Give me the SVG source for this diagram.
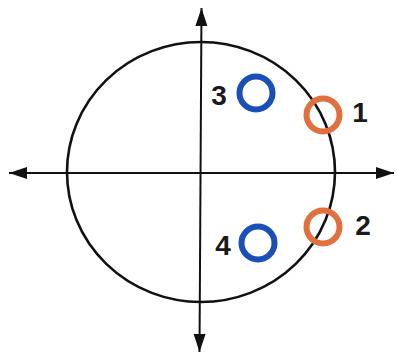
<svg xmlns="http://www.w3.org/2000/svg" width="397" height="355" viewBox="0 0 397 355">
<style>
.axis{stroke:#111;stroke-width:2;fill:none}
.ring{fill:none;stroke:#111;stroke-width:2.6}
.blue{fill:none;stroke:#1b4fb8;stroke-width:6}
.orange{fill:none;stroke:#e0703e;stroke-width:6}
.lbl{font-family:"Liberation Sans",Arial,sans-serif;font-weight:bold;font-size:28px;fill:#1a1a1a;text-anchor:middle}
</style>
<defs>
<marker id="ah" markerUnits="userSpaceOnUse" markerWidth="20" markerHeight="14" viewBox="0 0 20 14" refX="18" refY="7" orient="auto-start-reverse">
<path d="M0,1 L18,7 L0,13 Z" fill="#111"/>
</marker>
</defs>
<rect width="397" height="355" fill="#fff"/>
<g id="connectors">
<line class="axis" x1="9" y1="173" x2="394" y2="173" marker-start="url(#ah)" marker-end="url(#ah)"/>
<line class="axis" x1="201.5" y1="8" x2="199.5" y2="352" marker-start="url(#ah)" marker-end="url(#ah)"/>
</g>
<g id="big-circle"><ellipse class="ring" cx="201" cy="172" rx="134" ry="130"/></g>
<g id="node-1"><circle class="orange" cx="323" cy="115" r="16.5"/><text class="lbl" x="360" y="122">1</text></g>
<g id="node-2"><circle class="orange" cx="323" cy="227" r="16.5"/><text class="lbl" x="363" y="235">2</text></g>
<g id="node-3"><circle class="blue" cx="256" cy="93" r="16.5"/><text class="lbl" x="219" y="105">3</text></g>
<g id="node-4"><circle class="blue" cx="258" cy="243" r="16.5"/><text class="lbl" x="223" y="255">4</text></g>
</svg>
